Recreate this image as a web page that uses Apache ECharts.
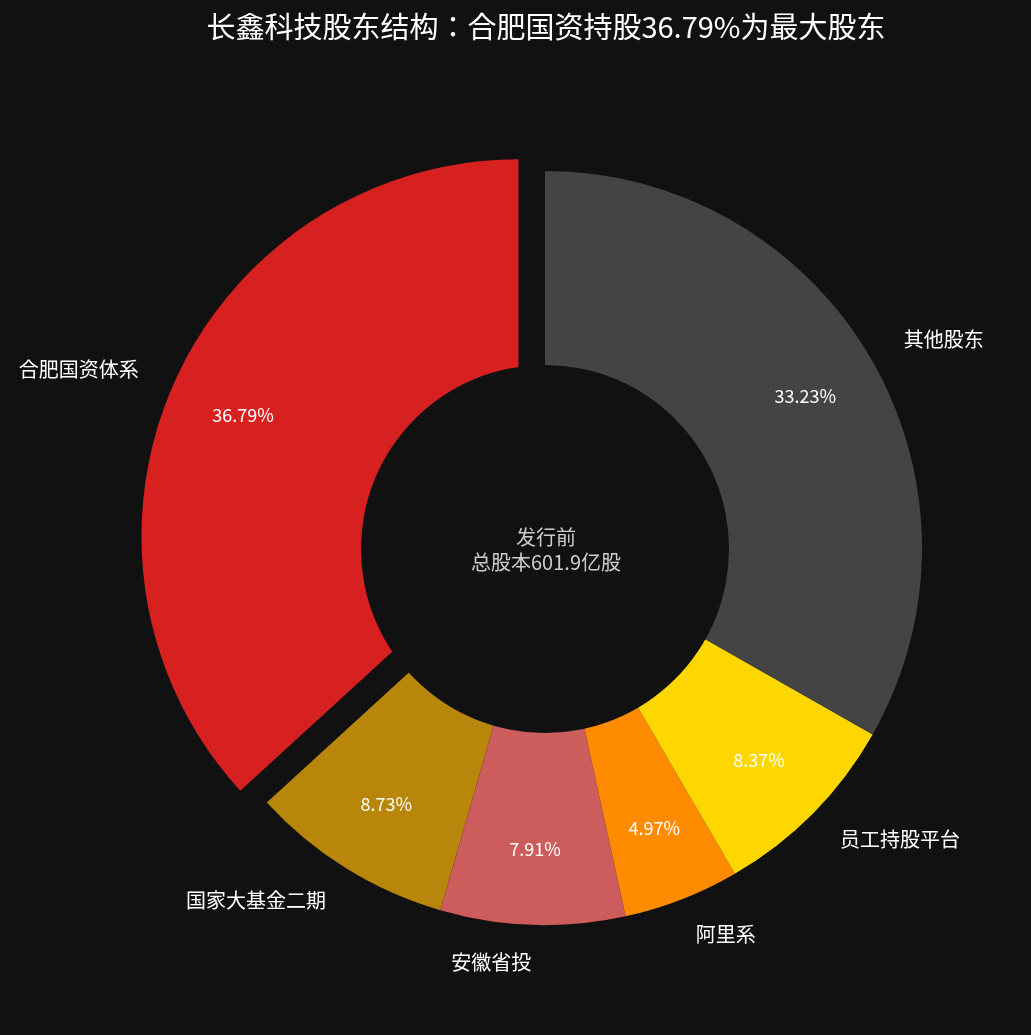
<!DOCTYPE html>
<html>
<head>
<meta charset="utf-8">
<script src="https://cdn.jsdelivr.net/npm/echarts@6/dist/echarts.min.js"></script>
<style>
  html, body { margin: 0; padding: 0; background: #111111; }
  #main { width: 1031px; height: 1035px; }
</style>
</head>
<body>
<div id="main"></div>
<script>
// 股东名称与持股比例（%）
const categories = ['合肥国资体系', '国家大基金二期', '安徽省投', '阿里系', '员工持股平台', '其他股东'];
const shares = [36.79, 8.73, 7.91, 4.97, 8.37, 33.23];
const sliceColors = ['#D72020', '#B8860B', '#CD5C5C', '#FF8C00', '#FFD700', '#444444'];
const titleText = '长鑫科技股东结构：合肥国资持股36.79%为最大股东';
const centerText = '发行前\n总股本601.9亿股';

const fontFamily = '"Noto Sans CJK JP", "Noto Sans CJK SC", "Noto Sans", sans-serif';
const chart = echarts.init(document.getElementById('main'));

const cx = 545, cy = 548;

// 第一个扇区（合肥国资）突出显示
let pieData = categories.map((name, i) => ({
  name: name,
  value: shares[i],
  selected: i === 0,
  itemStyle: { color: sliceColors[i] }
}));
let pctData = categories.map((name, i) => ({
  name: name,
  value: shares[i],
  selected: i === 0
}));

let option = {
  backgroundColor: '#111111',
  animation: false,
  title: {
    text: titleText,
    left: 541,
    top: 7,
    textAlign: 'center',
    textStyle: {
      color: '#ffffff',
      fontSize: 29,
      fontWeight: 'normal',
      fontFamily: fontFamily
    }
  },
  graphic: [{
    // 中心挖空的圆
    type: 'circle',
    z: 100,
    shape: { cx: 545, cy: 549, r: 184 },
    style: { fill: '#111111' },
    silent: true
  }, {
    type: 'text',
    z: 101,
    x: 546,
    y: 550,
    style: {
      text: centerText,
      align: 'center',
      verticalAlign: 'middle',
      fill: '#cccccc',
      fontSize: 20,
      lineHeight: 25,
      fontFamily: fontFamily
    }
  }],
  series: [{
    name: '股东结构',
    type: 'pie',
    center: [cx, cy],
    radius: [0, 377],
    startAngle: 90,
    clockwise: false,
    selectedMode: 'single',
    selectedOffset: 29,
    avoidLabelOverlap: false,
    emphasis: { disabled: true },
    label: {
      show: true,
      position: 'outside',
      color: '#ffffff',
      fontSize: 20,
      fontFamily: fontFamily,
      distanceToLabelLine: 0
    },
    labelLine: { show: false, length: 38, length2: 0 },
    data: pieData
  }, {
    name: '百分比',
    type: 'pie',
    center: [cx, cy],
    radius: [246, 350],
    startAngle: 90,
    clockwise: false,
    selectedMode: 'single',
    selectedOffset: 29,
    silent: true,
    emphasis: { disabled: true },
    itemStyle: { color: 'rgba(0,0,0,0)' },
    label: {
      show: true,
      position: 'inside',
      color: '#ffffff',
      fontSize: 18,
      fontFamily: fontFamily,
      formatter: function (p) { return p.value.toFixed(2) + '%'; }
    },
    labelLine: { show: false },
    data: pctData
  }]
};
chart.setOption(option);
</script>
</body>
</html>
